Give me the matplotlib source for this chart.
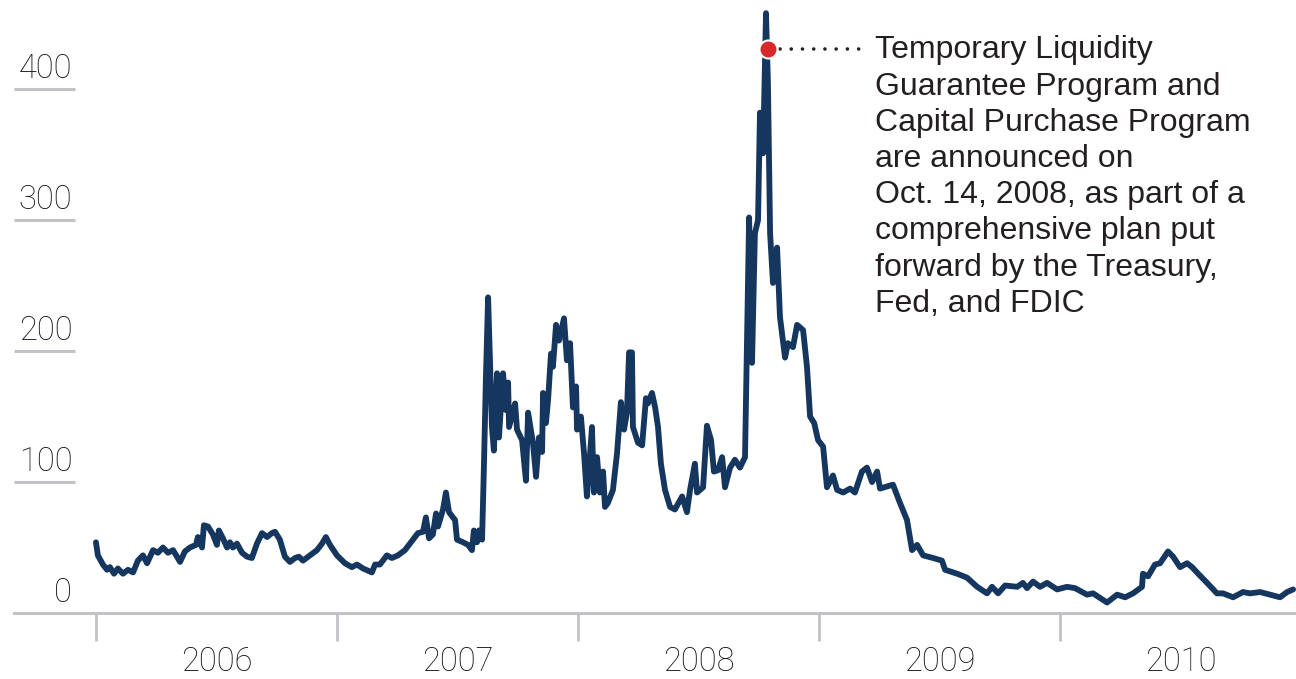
import numpy as np
import matplotlib.pyplot as plt
from matplotlib import transforms

# spread in basis points (decimal years)
years = [
    2006.000, 2006.008, 2006.029, 2006.046, 2006.058, 2006.075, 2006.091, 2006.112,
    2006.133, 2006.154, 2006.174, 2006.195, 2006.212, 2006.237, 2006.257, 2006.278,
    2006.299, 2006.320, 2006.349, 2006.369, 2006.390, 2006.415, 2006.423, 2006.440,
    2006.448, 2006.465, 2006.485, 2006.502, 2006.510, 2006.527, 2006.544, 2006.556,
    2006.568, 2006.585, 2006.606, 2006.627, 2006.647, 2006.668, 2006.689, 2006.710,
    2006.730, 2006.743, 2006.763, 2006.784, 2006.805, 2006.826, 2006.842, 2006.859,
    2006.888, 2006.917, 2006.938, 2006.954, 2006.971, 2007.000, 2007.033, 2007.062,
    2007.083, 2007.108, 2007.145, 2007.158, 2007.178, 2007.207, 2007.228, 2007.253,
    2007.282, 2007.315, 2007.336, 2007.357, 2007.369, 2007.382, 2007.398, 2007.411,
    2007.419, 2007.440, 2007.452, 2007.465, 2007.481, 2007.490, 2007.498, 2007.523,
    2007.544, 2007.560, 2007.568, 2007.581, 2007.589, 2007.602, 2007.610, 2007.618,
    2007.627, 2007.643, 2007.651,
    2007.664, 2007.672, 2007.689, 2007.701, 2007.710, 2007.714, 2007.739, 2007.747,
    2007.768, 2007.784, 2007.793, 2007.813, 2007.826, 2007.838, 2007.851, 2007.855,
    2007.867, 2007.876, 2007.888, 2007.896, 2007.909, 2007.921, 2007.942, 2007.954,
    2007.967, 2007.979, 2007.992, 2007.996, 2008.012, 2008.025, 2008.037, 2008.046,
    2008.058, 2008.066, 2008.079, 2008.091, 2008.104, 2008.112, 2008.124, 2008.145,
    2008.162, 2008.178, 2008.191, 2008.203, 2008.212, 2008.224, 2008.228, 2008.249,
    2008.266, 2008.282, 2008.290, 2008.307, 2008.320, 2008.332, 2008.344, 2008.361,
    2008.382, 2008.402, 2008.432, 2008.452, 2008.465, 2008.485, 2008.494, 2008.519,
    2008.535, 2008.552, 2008.564, 2008.581, 2008.598, 2008.610, 2008.631, 2008.651,
    2008.672, 2008.693, 2008.710, 2008.722, 2008.734, 2008.747, 2008.755, 2008.768,
    2008.780, 2008.788, 2008.797, 2008.809, 2008.826, 2008.838, 2008.859, 2008.871,
    2008.892, 2008.909, 2008.934, 2008.950, 2008.963, 2008.980, 2008.996, 2009.017,
    2009.033, 2009.058, 2009.075, 2009.100, 2009.129, 2009.149, 2009.178, 2009.199,
    2009.220, 2009.241, 2009.253, 2009.307, 2009.336, 2009.365, 2009.386, 2009.407,
    2009.432, 2009.473, 2009.510, 2009.523, 2009.573, 2009.614, 2009.656, 2009.697,
    2009.718, 2009.743, 2009.772, 2009.822, 2009.846, 2009.863, 2009.888, 2009.917,
    2009.946, 2009.988, 2010.008, 2010.029, 2010.062, 2010.112, 2010.137, 2010.195,
    2010.237, 2010.270, 2010.303, 2010.340, 2010.344, 2010.365, 2010.394, 2010.415,
    2010.448, 2010.469, 2010.498, 2010.527, 2010.548, 2010.573, 2010.610, 2010.651,
    2010.676, 2010.718, 2010.759, 2010.788, 2010.830, 2010.871, 2010.913, 2010.942,
    2010.967,
]
spread = [
    54, 44, 37, 33, 35, 30, 34, 30,
    33, 31, 40, 44, 38, 48, 46, 50,
    46, 48, 39, 47, 50, 52, 58, 50,
    67, 66, 60, 52, 63, 57, 50, 54,
    50, 53, 46, 43, 42, 53, 61, 58,
    61, 62, 56, 43, 39, 42, 43, 40,
    44, 48, 53, 58, 52, 44, 38, 35,
    37, 34, 31, 37, 37, 44, 42, 44,
    48, 56, 61, 62, 73, 57, 60, 76,
    66, 79, 92, 77, 73, 71, 56, 54,
    52, 48, 63, 54, 63, 56, 114, 180,
    241, 142, 124,
    183, 134, 183, 155, 176, 142, 160, 140,
    132, 101, 153, 130, 104, 134, 123, 168,
    145, 163, 198, 188, 220, 208, 225, 193,
    206, 157, 173, 140, 150, 122, 89, 111,
    142, 92, 119, 92, 108, 81, 84, 94,
    122, 161, 140, 153, 199, 199, 142, 130,
    128, 164, 160, 168, 157, 142, 114, 94,
    81, 79, 89, 77, 94, 114, 92, 96,
    143, 132, 108, 109, 119, 96, 111, 117,
    111, 119, 302, 191, 290, 300, 382, 351,
    458, 405, 290, 252, 279, 226, 195, 206,
    203, 220, 216, 188, 150, 145, 132, 127,
    96, 105, 94, 92, 95, 92, 108, 111,
    100, 108, 95, 98, 84, 71, 48, 52,
    44, 42, 40, 33, 30, 27, 20, 15,
    20, 15, 21, 20, 23, 19, 24, 20,
    23, 18, 19, 20, 19, 14, 15, 8,
    14, 12, 15, 20, 30, 28, 37, 38,
    47, 43, 35, 38, 35, 30, 23, 15,
    15, 12, 16, 15, 16, 14, 12, 16,
    18,
]

year_starts = [2006, 2007, 2008, 2009, 2010]
year_labels = ['2006', '2007', '2008', '2009', '2010']
y_levels = [0, 100, 200, 300, 400]

event_x = 2008.79
event_y = 431
event_text = ("Temporary Liquidity\nGuarantee Program and\nCapital Purchase Program\n"
              "are announced on\nOct. 14, 2008, as part of a\ncomprehensive plan put\n"
              "forward by the Treasury,\nFed, and FDIC")

navy = '#15375f'
grey = '#c3c3c7'
label_col = '#111111'

fig = plt.figure(figsize=(12.96, 6.79), dpi=100)
ax = fig.add_axes([14/1296, 66/679, 1282/1296, 609/679])
ax.set_xlim(2005.66, 2010.979)
ax.set_ylim(0, 465)

ax.plot(years, spread, color=navy, lw=4.2, solid_joinstyle='round',
        solid_capstyle='round', zorder=3)

for side in ['top', 'right', 'left']:
    ax.spines[side].set_visible(False)
ax.spines['bottom'].set_color(grey)
ax.spines['bottom'].set_linewidth(2.2)

# year boundaries as ticks, labels in the middle of each year
ax.set_xticks(year_starts)
ax.set_xticklabels([])
ax.tick_params(axis='x', which='major', length=20, width=2, color=grey)
ax.set_xticks([y + 0.5 for y in year_starts], minor=True)
ax.set_xticklabels(year_labels, minor=True, fontsize=23.5, color=label_col,
                   family='Roboto', fontweight='light')
ax.tick_params(axis='x', which='minor', length=0, pad=24)
ax.set_yticks([])

# short gridline stubs with the value sitting on top
trans = transforms.blended_transform_factory(ax.transAxes, ax.transData)
for v in y_levels:
    if v > 0:
        ax.plot([0, 0.0476], [v, v], color=grey, lw=2.2, transform=trans,
                solid_capstyle='butt', clip_on=False)
    ax.annotate(str(v), xy=(0.0455, v), xycoords=trans, xytext=(0, 8),
                textcoords='offset points', ha='right', va='baseline',
                fontsize=23.5, color=label_col, family='Roboto', fontweight='light')

# annotation for Oct. 14, 2008
ax.plot([event_x + 0.05, 2009.19], [event_y, event_y], color='#222222', lw=2.6,
        linestyle=(0, (0.01, 3.1)), dash_capstyle='round', zorder=2)
ax.plot([event_x], [event_y], 'o', color='#d7282a', markersize=13,
        markeredgecolor='white', markeredgewidth=1.5, zorder=4)
ax.text(2009.232, 441, event_text, ha='left', va='top', fontsize=23,
        family='Liberation Sans', color='#231f20', linespacing=1.27)

fig.savefig('out.png', dpi=100)
